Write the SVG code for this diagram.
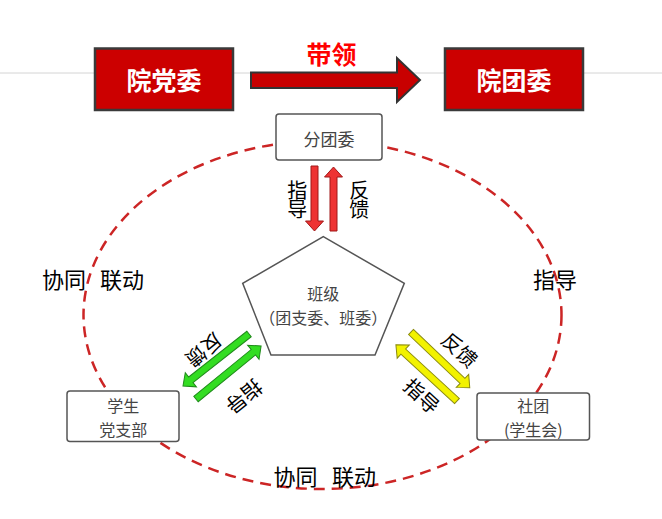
<svg xmlns="http://www.w3.org/2000/svg" width="662" height="519" viewBox="0 0 662 519">
<style>
text{font-family:"Noto Sans CJK SC","Liberation Sans",sans-serif}
.top{fill:#cc0000;stroke:#3a3a3a;stroke-width:2.5}
.toptxt{fill:#fff;font-size:25px;font-weight:bold;text-anchor:middle}
.box{fill:#fff;stroke:#555;stroke-width:1.5}
.btxt{fill:#444;font-size:17px;text-anchor:middle}
.b2{fill:#444;font-size:16px;text-anchor:middle}
.lbl{fill:#000;font-size:20px;text-anchor:middle}
.vert{fill:#000;font-size:20px;text-anchor:middle;writing-mode:vertical-rl;letter-spacing:-1px}
.big{fill:#000;font-size:22px}
.red{fill:#ee3333;stroke:#a01818;stroke-width:1}
.grn{fill:#33dd22;stroke:#1f8a1a;stroke-width:1}
.yel{fill:#f2f200;stroke:#8a8a10;stroke-width:1}
</style>
<rect width="662" height="519" fill="#fff"/>
<line x1="0" y1="73" x2="662" y2="73" stroke="#d4d4d4" stroke-width="1"/>
<g id="node-yuandangwei">
<rect class="top" x="95" y="48.5" width="138" height="61.5"/>
<text class="toptxt" x="164" y="90">院党委</text>
</g>
<g id="node-yuantuanwei">
<rect class="top" x="445" y="48.5" width="138" height="61.5"/>
<text class="toptxt" x="514" y="90">院团委</text>
</g>
<g id="connectors">
<polygon points="251,72.5 397,72.5 397,58 420,80 397,102 397,88 251,88" fill="#c80000" stroke="#333" stroke-width="2"/>
<ellipse cx="322.5" cy="315" rx="239" ry="174" fill="none" stroke="#cc2525" stroke-width="2.5" stroke-dasharray="11 7"/>
<path class="red" transform="translate(314.5,166) rotate(90)" d="M0,-3.5 H55 V-9 L65,0 L55,9 V3.5 H0 Z"/>
<path class="red" transform="translate(333.5,231) rotate(-90)" d="M0,-3.5 H54 V-9 L64,0 L54,9 V3.5 H0 Z"/>
<path class="grn" transform="translate(249,334) rotate(141.8)" d="M0,-3.5 H74 V-9 L84,0 L74,9 V3.5 H0 Z"/>
<path class="grn" transform="translate(196,399) rotate(-39.2)" d="M0,-3.5 H74 V-9 L84,0 L74,9 V3.5 H0 Z"/>
<path class="yel" transform="translate(411,332) rotate(43.5)" d="M0,-3.5 H71 V-9 L81,0 L71,9 V3.5 H0 Z"/>
<path class="yel" transform="translate(457,401) rotate(-137.4)" d="M0,-3.5 H73 V-9 L83,0 L73,9 V3.5 H0 Z"/>
</g>
<text x="331.5" y="63.5" fill="#ff0000" font-size="25" font-weight="bold" text-anchor="middle">带领</text>
<g id="node-fentuanwei">
<rect class="box" x="276" y="114" width="106" height="46" rx="3"/>
<text class="btxt" x="329" y="145.5">分团委</text>
</g>
<g id="node-banji">
<polygon class="box" points="323.3,236.7 404.3,283.3 375,355 271,355 242.7,283.3"/>
<text class="b2"><tspan x="323.3" y="300">班级</tspan><tspan x="323.3" y="324">（团支委、班委）</tspan></text>
</g>
<g id="node-dangzhibu">
<rect class="box" x="67" y="391" width="112" height="50.5" rx="3"/>
<text class="b2"><tspan x="123.3" y="411.5">学生</tspan><tspan x="123.3" y="435.5">党支部</tspan></text>
</g>
<g id="node-shetuan">
<rect class="box" x="477" y="393" width="112.5" height="47" rx="3"/>
<text class="b2"><tspan x="533.3" y="411.5">社团</tspan><tspan x="533.3" y="435.5">(学生会)</tspan></text>
</g>
<g id="labels">
<text class="vert" x="297.3" y="199.5">指导</text>
<text class="vert" x="359.3" y="199.5">反馈</text>
<text class="lbl" transform="translate(204,350) rotate(141)" x="0" y="7.5">反馈</text>
<text class="lbl" transform="translate(244,396.5) rotate(141)" x="0" y="7.5">指导</text>
<text class="lbl" transform="translate(459.5,350) rotate(43)" x="0" y="7.5">反馈</text>
<text class="lbl" transform="translate(421.7,396) rotate(43)" x="0" y="7.5">指导</text>
<text class="big"><tspan x="42" y="287.5">协同</tspan> <tspan x="100" y="287.5">联动</tspan></text>
<text class="big"><tspan x="273.5" y="485">协同</tspan> <tspan x="332" y="485">联动</tspan></text>
<text class="big" x="533" y="287.5">指导</text>
</g>
</svg>
